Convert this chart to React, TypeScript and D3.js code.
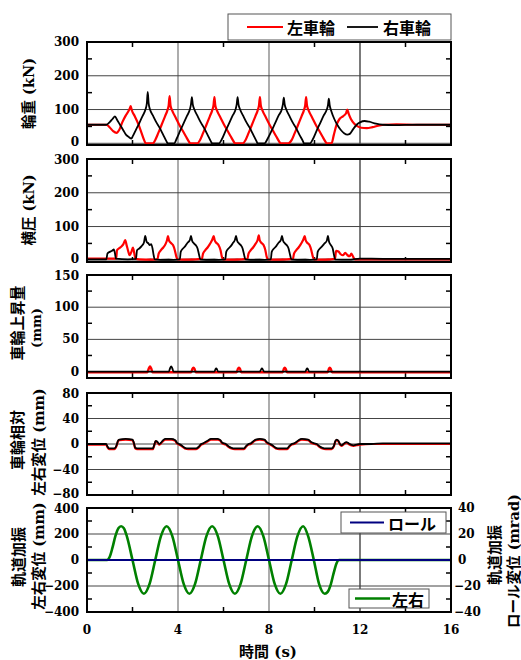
import React from "react";
import * as d3 from "d3";

type P = [number, number];

// ---------- data ----------
const timeTicks = [0, 4, 8, 12, 16];
const timeMinorTicks = [2, 6, 10, 14];

const loadLeft: P[] = [
  [0, 55], [0.85, 55], [1.0, 47], [1.15, 36], [1.3, 31], [1.42, 40], [1.55, 62], [1.7, 82], [1.82, 95], [1.88, 103], [1.92, 110], [1.97, 98], [2.1, 80], [2.25, 58], [2.4, 30], [2.52, 8], [2.58, 0], [2.9, 0],
  [3.0, 10], [3.13, 30], [3.28, 55], [3.43, 80], [3.53, 97], [3.59, 112], [3.63, 140], [3.67, 112], [3.75, 96], [3.9, 76], [4.05, 56], [4.2, 38], [4.35, 20], [4.48, 5], [4.53, 0], [4.85, 0],
  [4.97, 10], [5.1, 30], [5.25, 55], [5.4, 80], [5.5, 97], [5.56, 112], [5.6, 137], [5.64, 112], [5.72, 96], [5.87, 76], [6.02, 56], [6.17, 38], [6.32, 20], [6.45, 5], [6.5, 0], [6.85, 0],
  [6.97, 10], [7.1, 30], [7.25, 55], [7.4, 80], [7.5, 97], [7.56, 112], [7.6, 137], [7.64, 112], [7.72, 96], [7.87, 76], [8.02, 56], [8.17, 38], [8.32, 20], [8.45, 5], [8.5, 0], [8.85, 0],
  [9.0, 10], [9.13, 30], [9.28, 55], [9.43, 80], [9.53, 97], [9.59, 112], [9.63, 137], [9.67, 112], [9.75, 96], [9.9, 76], [10.05, 56], [10.2, 38], [10.35, 20], [10.48, 5], [10.53, 0], [10.75, 0],
  [10.85, 25], [10.97, 55], [11.1, 72], [11.25, 80], [11.38, 88], [11.44, 100], [11.5, 88], [11.6, 72], [11.75, 58], [11.9, 50], [12.05, 46], [12.3, 45], [12.55, 48], [12.8, 52], [13.1, 55], [13.6, 56], [14.5, 55], [16, 55],
];

const loadRight: P[] = [
  [0, 55], [0.85, 55], [1.0, 63], [1.12, 72], [1.23, 80], [1.32, 70], [1.45, 55], [1.6, 38], [1.72, 25], [1.85, 18], [1.95, 14], [2.02, 22], [2.15, 40], [2.3, 60], [2.45, 82], [2.57, 100], [2.63, 118], [2.67, 152], [2.71, 118], [2.77, 100], [2.9, 82], [3.05, 62], [3.2, 45], [3.35, 25], [3.5, 5], [3.55, 0], [3.83, 0],
  [3.95, 15], [4.1, 38], [4.25, 60], [4.4, 82], [4.52, 100], [4.57, 115], [4.61, 137], [4.65, 115], [4.72, 100], [4.85, 82], [5.0, 62], [5.15, 45], [5.3, 25], [5.45, 5], [5.5, 0], [5.8, 0],
  [5.95, 15], [6.1, 38], [6.25, 60], [6.4, 82], [6.53, 100], [6.58, 115], [6.62, 137], [6.66, 115], [6.73, 100], [6.86, 82], [7.01, 62], [7.16, 45], [7.31, 25], [7.46, 5], [7.5, 0], [7.8, 0],
  [7.95, 15], [8.12, 38], [8.27, 60], [8.42, 82], [8.56, 100], [8.61, 115], [8.65, 135], [8.69, 115], [8.76, 100], [8.89, 82], [9.04, 62], [9.19, 45], [9.34, 25], [9.5, 5], [9.53, 0], [9.8, 0],
  [9.95, 15], [10.1, 38], [10.25, 60], [10.4, 82], [10.54, 100], [10.59, 112], [10.63, 132], [10.67, 112], [10.74, 95], [10.87, 72], [11.0, 55], [11.15, 40], [11.3, 30], [11.45, 26], [11.55, 28], [11.7, 42], [11.85, 55], [12.0, 62], [12.2, 66], [12.4, 64], [12.7, 58], [13.0, 55], [13.5, 54], [14.5, 55], [16, 55],
];

const lateralLeft: P[] = [
  [0, 5], [1.28, 5], [1.32, 30], [1.4, 35], [1.5, 40], [1.6, 48], [1.68, 60], [1.74, 45], [1.8, 30], [1.87, 15], [1.95, 25], [2.02, 38], [2.08, 20], [2.13, 5], [2.3, 3], [2.9, 2], [3.1, 4],
  [3.15, 20], [3.25, 30], [3.35, 38], [3.45, 48], [3.52, 60], [3.56, 72], [3.6, 60], [3.68, 52], [3.78, 45], [3.86, 30], [3.93, 10], [3.98, 3], [4.5, 2], [5.05, 4],
  [5.1, 20], [5.2, 30], [5.3, 38], [5.4, 48], [5.5, 60], [5.57, 72], [5.61, 60], [5.68, 52], [5.78, 45], [5.87, 30], [5.93, 10], [5.98, 3], [6.5, 2], [7.05, 4],
  [7.1, 20], [7.2, 30], [7.3, 38], [7.4, 48], [7.5, 60], [7.55, 74], [7.59, 60], [7.66, 52], [7.76, 45], [7.84, 30], [7.9, 10], [7.95, 3], [8.5, 2], [9.05, 4],
  [9.1, 20], [9.2, 30], [9.3, 38], [9.4, 48], [9.5, 60], [9.57, 72], [9.61, 60], [9.68, 52], [9.78, 45], [9.86, 30], [9.93, 10], [9.98, 3], [10.5, 2], [10.9, 4],
  [10.95, 28], [11.05, 26], [11.15, 18], [11.25, 15], [11.35, 22], [11.45, 15], [11.55, 12], [11.62, 20], [11.7, 10], [11.78, 3], [12.5, 3], [16, 3],
];

const lateralRight: P[] = [
  [0, 3], [0.85, 3], [0.9, 20], [1.0, 25], [1.1, 28], [1.18, 32], [1.23, 20], [1.27, 5], [1.8, 3], [2.15, 4],
  [2.2, 30], [2.3, 35], [2.4, 42], [2.5, 52], [2.56, 72], [2.62, 55], [2.7, 50], [2.76, 45], [2.82, 48], [2.88, 35], [2.93, 15], [2.97, 3], [3.5, 1], [4.08, 3],
  [4.12, 25], [4.22, 35], [4.32, 42], [4.42, 52], [4.52, 60], [4.57, 72], [4.62, 58], [4.7, 50], [4.78, 45], [4.86, 35], [4.93, 15], [4.98, 3], [5.5, 1], [6.08, 3],
  [6.12, 25], [6.22, 35], [6.32, 42], [6.42, 52], [6.5, 60], [6.55, 72], [6.6, 58], [6.68, 50], [6.76, 45], [6.84, 35], [6.91, 15], [6.96, 3], [7.5, 1], [8.08, 3],
  [8.12, 25], [8.22, 35], [8.32, 42], [8.42, 52], [8.52, 60], [8.57, 72], [8.62, 58], [8.7, 50], [8.78, 45], [8.86, 35], [8.93, 15], [8.98, 3], [9.5, 1], [10.1, 3],
  [10.14, 25], [10.24, 35], [10.34, 42], [10.44, 50], [10.54, 58], [10.59, 72], [10.64, 55], [10.72, 45], [10.8, 35], [10.86, 15], [10.9, 3], [11.5, 2], [12.0, 5], [12.5, 5], [13.5, 4], [16, 4],
];

const lateralOther: P[] = [
  [0, 0], [2.6, 1], [2.8, 4], [3.0, 1], [3.6, 4], [3.8, 1], [4.6, 4], [4.8, 1], [5.6, 4], [5.8, 1], [6.6, 4], [6.8, 1], [7.6, 4], [7.8, 1], [8.6, 4], [8.8, 1], [9.6, 4], [9.8, 1], [10.6, 4], [10.8, 1], [12, 1], [16, 1],
];

const liftLeft: P[] = [
  [0, -1], [2.65, -1], [2.72, 5], [2.77, 8], [2.82, 5], [2.88, -1], [4.58, -1], [4.63, 4], [4.68, 6], [4.73, 4], [4.78, -1], [6.58, -1], [6.63, 4], [6.68, 6], [6.73, 4], [6.78, -1],
  [8.6, -1], [8.65, 4], [8.69, 6], [8.74, 4], [8.79, -1], [10.58, -1], [10.63, 4], [10.67, 6], [10.72, 4], [10.77, -1], [11.5, -1], [16, -1],
];

const liftRight: P[] = [
  [0, 0], [3.6, 0], [3.65, 5], [3.7, 8], [3.75, 5], [3.8, 0], [5.6, 0], [5.64, 3], [5.68, 5], [5.72, 3], [5.76, 0], [7.6, 0], [7.65, 3], [7.69, 5], [7.73, 3], [7.78, 0],
  [9.6, 0], [9.64, 3], [9.68, 5], [9.72, 3], [9.76, 0], [16, 0],
];

const relRight: P[] = [
  [0, 0], [0.84, 0], [0.9, -4], [0.97, -7], [1.2, -7], [1.3, -2], [1.36, 5], [1.42, 7], [1.7, 8], [2.0, 7], [2.06, 2], [2.12, -6], [2.2, -7], [2.9, -7], [2.95, -2], [3.02, 5], [3.08, 4], [3.17, 0], [3.25, 2], [3.35, 6], [3.45, 8], [3.7, 8], [3.88, 6], [3.95, 2], [4.05, 0],
  [4.15, -2], [4.3, -6], [4.45, -7], [4.8, -7], [4.92, -4], [5.02, 0], [5.1, 1], [5.2, 3], [5.3, 5], [5.45, 8], [5.75, 8], [5.86, 6], [5.95, 2], [6.1, 0],
  [6.2, -3], [6.35, -6], [6.5, -7], [6.9, -7], [7.0, -3], [7.1, 0], [7.2, 1], [7.3, 4], [7.42, 7], [7.6, 8], [7.8, 7], [7.9, 3], [8.05, 0],
  [8.15, -2], [8.3, -6], [8.45, -7], [8.8, -7], [8.9, -3], [9.0, 0], [9.1, 1], [9.2, 3], [9.3, 6], [9.45, 8], [9.72, 7], [9.85, 3], [10.0, 1], [10.1, 0],
  [10.2, -3], [10.35, -6], [10.5, -7], [10.75, -7], [10.85, -3], [10.92, 5], [10.98, 7], [11.05, 5], [11.12, 0], [11.2, -2], [11.3, 1], [11.4, 3], [11.5, 1], [11.6, -1], [11.72, -2], [11.85, -1], [12.0, 0], [12.5, 0], [13, 1], [14, 1], [16, 1],
];

const relLeft: P[] = [
  [0, -1], [0.84, -1], [0.9, -5], [0.97, -8], [1.2, -8], [1.3, -3], [1.36, 4], [1.42, 6], [1.7, 7], [2.0, 6], [2.06, 1], [2.12, -7], [2.2, -8], [2.9, -8], [2.95, -3], [3.02, 4], [3.08, 3], [3.17, -1], [3.25, 1], [3.35, 5], [3.45, 7], [3.7, 7], [3.88, 5], [3.95, 1], [4.05, -1],
  [4.15, -3], [4.3, -7], [4.45, -8], [4.8, -8], [4.92, -5], [5.02, -1], [5.1, 0], [5.2, 2], [5.3, 4], [5.45, 7], [5.75, 7], [5.86, 5], [5.95, 1], [6.1, -1],
  [6.2, -4], [6.35, -7], [6.5, -8], [6.9, -8], [7.0, -4], [7.1, -1], [7.2, 0], [7.3, 3], [7.42, 6], [7.6, 7], [7.8, 6], [7.9, 2], [8.05, -1],
  [8.15, -3], [8.3, -7], [8.45, -8], [8.8, -8], [8.9, -4], [9.0, -1], [9.1, 0], [9.2, 2], [9.3, 5], [9.45, 7], [9.72, 6], [9.85, 2], [10.0, 0], [10.1, -1],
  [10.2, -4], [10.35, -7], [10.5, -8], [10.75, -8], [10.85, -4], [10.92, 4], [10.98, 6], [11.05, 4], [11.12, -1], [11.2, -3], [11.3, 0], [11.4, 2], [11.5, 0], [11.6, -2], [11.72, -3], [11.85, -2], [12.0, -1], [12.5, 0], [13, 0], [14, 0], [16, 0],
];

const trackLateral: P[] = [
  [0, 0], [0.88, 0], [1.0, 25], [1.12, 95], [1.25, 185], [1.38, 245], [1.5, 260], [1.62, 245], [1.75, 184], [2.0, 0], [2.25, -184], [2.5, -260], [2.75, -184],
  [3.0, 0], [3.25, 184], [3.5, 260], [3.75, 184], [4.0, 0], [4.25, -184], [4.5, -260], [4.75, -184],
  [5.0, 0], [5.25, 184], [5.5, 260], [5.75, 184], [6.0, 0], [6.25, -184], [6.5, -260], [6.75, -184],
  [7.0, 0], [7.25, 184], [7.5, 260], [7.75, 184], [8.0, 0], [8.25, -184], [8.5, -260], [8.75, -184],
  [9.0, 0], [9.25, 184], [9.5, 260], [9.72, 184], [9.97, 0], [10.2, -184], [10.45, -260], [10.58, -245], [10.72, -185], [10.85, -95], [10.97, -25], [11.08, 0], [16, 0],
];

const trackRoll: P[] = [[0, 0], [16, 0]];

const panelYTicks = [
  { majors: [0, 100, 200, 300], minors: [50, 150, 250] },
  { majors: [0, 100, 200, 300], minors: [50, 150, 250] },
  { majors: [0, 50, 100, 150], minors: [25, 75, 125] },
  { majors: [-80, -40, 0, 40, 80], minors: [-60, -20, 20, 60] },
  { majors: [-400, -200, 0, 200, 400], minors: [-300, -100, 100, 300] },
];
const panelDomains: [number, number][] = [[-5, 300], [-5, 300], [-10, 150], [-80, 80], [-400, 400]];
const rollTicks = [-40, -20, 0, 20, 40];

// ---------- layout ----------
const W = 521, H = 660;
const X0 = 87, X1 = 451;
const panelBoxes = [
  { top: 42, bottom: 145 },
  { top: 159, bottom: 262 },
  { top: 275, bottom: 378 },
  { top: 393, bottom: 495 },
  { top: 508, bottom: 612 },
];

const NUM_FONT = "'DejaVu Serif', 'Noto Sans CJK JP', serif";
const JP_FONT = "'Noto Sans CJK JP', sans-serif";
const TICK_SIZE = 12;
const fmt = (v: number) => (v < 0 ? "\u2212" + Math.abs(v) : String(v));

const x = d3.scaleLinear().domain([0, 16]).range([X0, X1]);

function Panel({ i, children }: { i: number; children: (y: d3.ScaleLinear<number, number>) => React.ReactNode }) {
  const box = panelBoxes[i];
  const y = d3.scaleLinear().domain(panelDomains[i]).range([box.bottom, box.top]);
  const t = panelYTicks[i];
  const clipId = `clip${i}`;
  const labelY = (v: number) => {
    const p = y(v);
    if (Math.abs(p - box.top) < 1 && i > 0) return p + 1;
    if (Math.abs(p - box.bottom) < 2 && i < panelBoxes.length - 1) return p - 1;
    return p;
  };
  return (
    <g>
      <defs>
        <clipPath id={clipId}>
          <rect x={X0} y={box.top} width={X1 - X0} height={box.bottom - box.top} />
        </clipPath>
      </defs>
      <rect x={X0} y={box.top} width={X1 - X0} height={box.bottom - box.top} fill="#fff" />
      {timeTicks.slice(1, -1).map((v) => (
        <line key={"gx" + v} x1={x(v)} x2={x(v)} y1={box.top} y2={box.bottom} stroke={v === 12 ? "#333" : "#808080"} strokeWidth={1.3} />
      ))}
      {t.majors.map((v) => (
        <line key={"gy" + v} x1={X0} x2={X1} y1={y(v)} y2={y(v)} stroke="#444" strokeWidth={1} />
      ))}
      {timeMinorTicks.map((v) => (
        <g key={"tx" + v}>
          <line x1={x(v)} x2={x(v)} y1={box.top} y2={box.top + 5} stroke="#000" strokeWidth={1.5} />
          <line x1={x(v)} x2={x(v)} y1={box.bottom} y2={box.bottom - 5} stroke="#000" strokeWidth={1.5} />
        </g>
      ))}
      {t.minors.map((v) => (
        <g key={"ty" + v}>
          <line x1={X0} x2={X0 + 5} y1={y(v)} y2={y(v)} stroke="#000" strokeWidth={1.5} />
          <line x1={X1} x2={X1 - 5} y1={y(v)} y2={y(v)} stroke="#000" strokeWidth={1.5} />
        </g>
      ))}
      <g clipPath={`url(#${clipId})`}>{children(y)}</g>
      <rect x={X0} y={box.top} width={X1 - X0} height={box.bottom - box.top} fill="none" stroke="#000" strokeWidth={2} />
      {t.majors.map((v) => (
        <text key={"ly" + v} x={79} y={labelY(v)} textAnchor="end" dominantBaseline="central" fontFamily={NUM_FONT} fontWeight="bold" fontSize={TICK_SIZE}>
          {fmt(v)}
        </text>
      ))}
    </g>
  );
}

function pathOf(data: P[], y: d3.ScaleLinear<number, number>) {
  return d3
    .line<P>()
    .x((d) => x(d[0]))
    .y((d) => y(d[1]))
    .curve(d3.curveMonotoneX)(data) as string;
}

function VLabel({ cx, cy, text, size = 15 }: { cx: number; cy: number; text: string; size?: number }) {
  return (
    <text transform={`translate(${cx},${cy}) rotate(-90)`} textAnchor="middle" dominantBaseline="central" fontFamily={NUM_FONT} fontWeight="bold" fontSize={size}>
      {text}
    </text>
  );
}

export default function App() {
  const p5 = panelBoxes[4];
  const yRoll = d3.scaleLinear().domain([-40, 40]).range([p5.bottom, p5.top]);
  return (
    <svg width={W} height={H} style={{ position: "absolute", left: 0, top: 0, background: "#fff" }}>
      <rect width={W} height={H} fill="#fff" />
      <Panel i={0}>
        {(y) => (
          <>
            <path d={pathOf(loadLeft, y)} fill="none" stroke="#ff0000" strokeWidth={2.2} />
            <path d={pathOf(loadRight, y)} fill="none" stroke="#000" strokeWidth={1.8} />
          </>
        )}
      </Panel>
      <Panel i={1}>
        {(y) => (
          <>
            <path d={pathOf(lateralOther, y)} fill="none" stroke="#a0a0a0" strokeWidth={1.8} />
            <path d={pathOf(lateralLeft, y)} fill="none" stroke="#ff0000" strokeWidth={2.2} />
            <path d={pathOf(lateralRight, y)} fill="none" stroke="#000" strokeWidth={1.8} />
          </>
        )}
      </Panel>
      <Panel i={2}>
        {(y) => (
          <>
            <path d={pathOf(liftLeft, y)} fill="none" stroke="#ff0000" strokeWidth={2.4} />
            <path d={pathOf(liftRight, y)} fill="none" stroke="#000" strokeWidth={1.8} />
          </>
        )}
      </Panel>
      <Panel i={3}>
        {(y) => (
          <>
            <path d={pathOf(relLeft, y)} fill="none" stroke="#ff0000" strokeWidth={2.2} />
            <path d={pathOf(relRight, y)} fill="none" stroke="#000" strokeWidth={1.8} />
          </>
        )}
      </Panel>
      <Panel i={4}>
        {(y) => (
          <>
            <path d={pathOf(trackLateral, y)} fill="none" stroke="#008000" strokeWidth={2.6} />
            <path d={pathOf(trackRoll, yRoll)} fill="none" stroke="#000080" strokeWidth={1.8} />
          </>
        )}
      </Panel>

      {rollTicks.map((v) => (
        <text key={"r" + v} x={v < 0 ? 454 : 458} y={yRoll(v)} dominantBaseline="central" fontFamily={NUM_FONT} fontWeight="bold" fontSize={TICK_SIZE}>
          {fmt(v)}
        </text>
      ))}

      {timeTicks.map((v) => (
        <text key={"x" + v} x={x(v)} y={630} textAnchor="middle" dominantBaseline="central" fontFamily={NUM_FONT} fontWeight="bold" fontSize={TICK_SIZE}>
          {v}
        </text>
      ))}
      <text x={268} y={652} textAnchor="middle" dominantBaseline="central" fontFamily={NUM_FONT} fontWeight="bold" fontSize={15}>
        時間 (s)
      </text>

      <VLabel cx={28} cy={93.5} text="輪重 (kN)" size={14.5} />
      <VLabel cx={28} cy={210} text="横圧 (kN)" size={14.5} />
      <VLabel cx={18} cy={323} text="車輪上昇量" size={15} />
      <VLabel cx={36} cy={328} text="(mm)" size={13} />
      <VLabel cx={18} cy={440} text="車輪相対" size={15} />
      <VLabel cx={38} cy={442} text="左右変位 (mm)" size={14.5} />
      <VLabel cx={19} cy={557} text="軌道加振" size={15} />
      <VLabel cx={38} cy={556} text="左右変位 (mm)" size={14.5} />
      <VLabel cx={495} cy={555} text="軌道加振" size={15} />
      <VLabel cx={513} cy={561} text="ロール変位 (mrad)" size={14.5} />

      <rect x={228} y={14} width={223} height={26} fill="#fff" stroke="#555" strokeWidth={1} />
      <line x1={247} x2={283} y1={27} y2={27} stroke="#ff0000" strokeWidth={2.2} />
      <text x={287} y={27} dominantBaseline="central" fontFamily={JP_FONT} fontWeight="bold" fontSize={16}>左車輪</text>
      <line x1={347} x2={378} y1={27} y2={27} stroke="#000" strokeWidth={1.8} />
      <text x={383} y={27} dominantBaseline="central" fontFamily={JP_FONT} fontWeight="bold" fontSize={16}>右車輪</text>

      <rect x={341} y={512} width={105} height={21} fill="#fff" stroke="#555" strokeWidth={1} />
      <line x1={350} x2={384} y1={522.5} y2={522.5} stroke="#000080" strokeWidth={1.8} />
      <text x={388} y={522.5} dominantBaseline="central" fontFamily={JP_FONT} fontWeight="bold" fontSize={16}>ロール</text>

      <rect x={349} y={589} width={80} height={19} fill="#fff" stroke="#555" strokeWidth={1} />
      <line x1={355} x2={390} y1={598.5} y2={598.5} stroke="#008000" strokeWidth={2.6} />
      <text x={392} y={598.5} dominantBaseline="central" fontFamily={JP_FONT} fontWeight="bold" fontSize={16}>左右</text>
    </svg>
  );
}
